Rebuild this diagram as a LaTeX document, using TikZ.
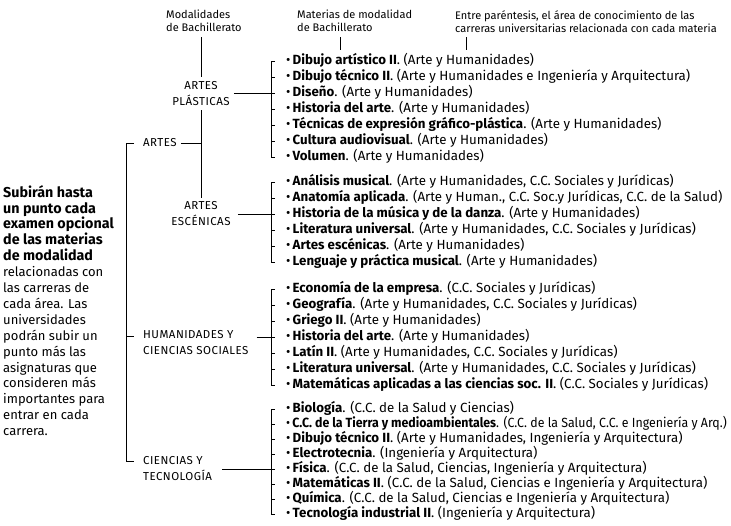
\documentclass[tikz,border=0pt]{standalone}
\usepackage{fontspec}
\usepackage{graphicx}
\setmainfont{Fira Sans}
\usetikzlibrary{positioning}

\newcommand{\asig}[2]{\textbullet\,\textbf{#1}. (#2)}
\newcommand{\negr}[1]{{\fontsize{14.3}{15.9}\selectfont\bfseries #1}}

\begin{document}
\begin{tikzpicture}[x=1pt, y=-1pt, inner sep=0pt, node distance=16pt,
    head/.style={anchor=north west, align=left, font=\fontsize{11}{13}\selectfont},
    area/.style={align=center, font=\fontsize{11.5}{16}\selectfont\addfontfeature{LetterSpace=4}},
    item/.style={anchor=west, text height=9pt, text depth=3pt, font=\fontsize{13.3}{16}\selectfont},
    next/.style={item, below=of #1.west, anchor=west},
    bar/.style={line width=1pt},
    pin/.style={line width=0.7pt}]
  \useasboundingbox (0,0) rectangle (731,525);

  % cabeceras
  \node[head] (modh) at (166,10) {Modalidades\\de Bachillerato};
  \node[head] (math) at (297,10) {Materias de modalidad\\de Bachillerato};
  \node[head] (areh) at (455,10) {Entre paréntesis, el área de conocimiento de las\\carreras universitarias relacionada con cada materia};
  \coordinate (mat0) at (340,50);
  \coordinate (are0) at (466,50);

  % nota de la izquierda
  \node[anchor=north west, align=left, font=\fontsize{13}{15.9}\selectfont] (nota) at (3,185)
    {\negr{Subirán hasta}\\\negr{un punto cada}\\\negr{examen opcional}\\\negr{de las materias}\\\negr{de modalidad}\\
     relacionadas con\\las carreras de\\cada área. Las\\universidades\\podrán subir un\\punto más las\\asignaturas que\\consideren más\\importantes para\\entrar en cada\\carrera.};

  % modalidades
  \node[area, anchor=west] (artes) at (143,143) {ARTES};
  \node[area] (plast) at (201,94) {ARTES\\PLÁSTICAS};
  \node[area] (esc) at (201,214) {ARTES\\ESCÉNICAS};
  \node[area, anchor=west, align=left] (hum) at (143,343) {HUMANIDADES Y\\CIENCIAS SOCIALES};
  \node[area, anchor=west, align=left] (cien) at (143,469) {CIENCIAS Y\\TECNOLOGÍA};

  % artes plasticas
  \node[item] (p1) at (286,61) {\asig{Dibujo artístico II}{Arte y Humanidades}};
  \node[next=p1] (p2) {\asig{Dibujo técnico II}{Arte y Humanidades e Ingeniería y Arquitectura}};
  \node[next=p2] (p3) {\asig{Diseño}{Arte y Humanidades}};
  \node[next=p3] (p4) {\asig{Historia del arte}{Arte y Humanidades}};
  \node[next=p4] (p5) {\asig{Técnicas de expresión gráfico-plástica}{Arte y Humanidades}};
  \node[next=p5] (p6) {\asig{Cultura audiovisual}{Arte y Humanidades}};
  \node[next=p6] (p7) {\asig{Volumen}{Arte y Humanidades}};

  % artes escenicas
  \node[item] (e1) at (286,182) {\asig{Análisis musical}{Arte y Humanidades, C.C. Sociales y Jurídicas}};
  \node[next=e1] (e2) {\asig{Anatomía aplicada}{Arte y Human., C.C. Soc.y Jurídicas, C.C. de la Salud}};
  \node[next=e2] (e3) {\asig{Historia de la música y de la danza}{Arte y Humanidades}};
  \node[next=e3] (e4) {\asig{Literatura universal}{Arte y Humanidades, C.C. Sociales y Jurídicas}};
  \node[next=e4] (e5) {\asig{Artes escénicas}{Arte y Humanidades}};
  \node[next=e5] (e6) {\asig{Lenguaje y práctica musical}{Arte y Humanidades}};

  % humanidades y ciencias sociales
  \node[item] (h1) at (286,289) {\asig{Economía de la empresa}{C.C. Sociales y Jurídicas}};
  \node[next=h1] (h2) {\asig{Geografía}{Arte y Humanidades, C.C. Sociales y Jurídicas}};
  \node[next=h2] (h3) {\asig{Griego II}{Arte y Humanidades}};
  \node[next=h3] (h4) {\asig{Historia del arte}{Arte y Humanidades}};
  \node[next=h4] (h5) {\asig{Latín II}{Arte y Humanidades, C.C. Sociales y Jurídicas}};
  \node[next=h5] (h6) {\asig{Literatura universal}{Arte y Humanidades, C.C. Sociales y Jurídicas}};
  \node[next=h6] (h7) {\asig{Matemáticas aplicadas a las ciencias soc. II}{C.C. Sociales y Jurídicas}};

  % ciencias y tecnologia
  \begin{scope}[node distance=15pt]
  \node[item] (c1) at (286,409) {\asig{Biología}{C.C. de la Salud y Ciencias}};
  \node[next=c1] (c2) {\scalebox{0.93}[1]{\asig{C.C. de la Tierra y medioambientales}{C.C. de la Salud, C.C. e Ingeniería y Arq.}}};
  \node[next=c2] (c3) {\asig{Dibujo técnico II}{Arte y Humanidades, Ingeniería y Arquitectura}};
  \node[next=c3] (c4) {\asig{Electrotecnia}{Ingeniería y Arquitectura}};
  \node[next=c4] (c5) {\asig{Física}{C.C. de la Salud, Ciencias, Ingeniería y Arquitectura}};
  \node[next=c5] (c6) {\asig{Matemáticas II}{C.C. de la Salud, Ciencias e Ingeniería y Arquitectura}};
  \node[next=c6] (c7) {\asig{Química}{C.C. de la Salud, Ciencias e Ingeniería y Arquitectura}};
  \node[next=c7] (c8) {\asig{Tecnología industrial II}{Ingeniería y Arquitectura}};
  \end{scope}

  % lineas de las cabeceras
  \draw[pin] (plast |- modh.south) ++(0,-5pt) -- ([yshift=5pt]plast.north);
  \draw[pin] (mat0 |- math.south) ++(0,-5pt) -- (mat0);
  \draw[pin] (are0 |- areh.south) ++(0,-5pt) -- (are0);

  % llave grande
  \draw[bar] ([xshift=-9pt]artes.west) -| ([xshift=-17pt,yshift=8pt]cien.west) -- ++(8pt,0);
  \draw[bar] ([xshift=-17pt,yshift=7pt]hum.west) -- ++(8pt,0);
  \draw[bar] ([xshift=4pt]artes.east) -- (artes -| plast);
  \draw[bar] ([yshift=-4pt]plast.south) -- ([yshift=4pt]esc.north);

  % enlaces a las llaves
  \draw[bar] ([xshift=4pt]plast.east |- p3) -- ([xshift=-11pt]p3.west);
  \draw[bar] ([xshift=7pt]esc.east |- e3) -- ([xshift=-11pt]e3.west);
  \draw[bar] ([xshift=8pt]hum.east |- h4) -- ([xshift=-11pt]h4.west);
  \draw[bar] ([xshift=10pt]cien.east |- c5) -- ([xshift=-11pt]c5.west);

  % llaves de las materias
  \draw[bar] ([xshift=-11pt]p1.west) -| ([xshift=-15pt]p7.west) -- ++(4pt,0)
    ([xshift=-15pt]p2.west) -- ++(4pt,0) ([xshift=-15pt]p4.west) -- ++(4pt,0)
    ([xshift=-15pt]p5.west) -- ++(4pt,0) ([xshift=-15pt]p6.west) -- ++(4pt,0);
  \draw[bar] ([xshift=-11pt]e1.west) -| ([xshift=-15pt]e6.west) -- ++(4pt,0)
    ([xshift=-15pt]e2.west) -- ++(4pt,0) ([xshift=-15pt]e4.west) -- ++(4pt,0)
    ([xshift=-15pt]e5.west) -- ++(4pt,0);
  \draw[bar] ([xshift=-11pt]h1.west) -| ([xshift=-15pt]h7.west) -- ++(4pt,0)
    ([xshift=-15pt]h2.west) -- ++(4pt,0) ([xshift=-15pt]h3.west) -- ++(4pt,0)
    ([xshift=-15pt]h5.west) -- ++(4pt,0) ([xshift=-15pt]h6.west) -- ++(4pt,0);
  \draw[bar] ([xshift=-11pt]c1.west) -| ([xshift=-15pt]c8.west) -- ++(4pt,0)
    ([xshift=-15pt]c2.west) -- ++(4pt,0) ([xshift=-15pt]c3.west) -- ++(4pt,0)
    ([xshift=-15pt]c4.west) -- ++(4pt,0) ([xshift=-15pt]c6.west) -- ++(4pt,0)
    ([xshift=-15pt]c7.west) -- ++(4pt,0);
\end{tikzpicture}
\end{document}
